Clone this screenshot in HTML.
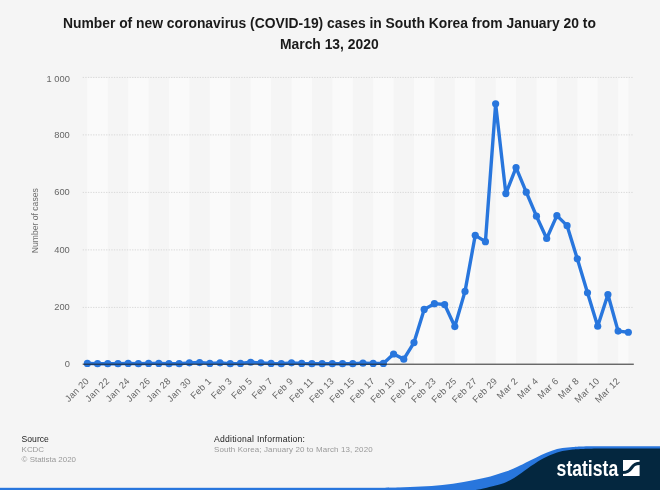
<!DOCTYPE html>
<html><head><meta charset="utf-8"><title>Statista chart</title>
<style>
html,body{margin:0;padding:0;background:#f5f5f5;}
body{width:660px;height:490px;overflow:hidden;font-family:"Liberation Sans",sans-serif;}
svg{display:block;will-change:transform;}
text{font-family:"Liberation Sans",sans-serif;}
</style></head><body>
<svg width="660" height="490" viewBox="0 0 660 490">
<defs><filter id="soft" x="-10" y="-10" width="680" height="510" filterUnits="userSpaceOnUse" color-interpolation-filters="sRGB"><feGaussianBlur stdDeviation="0.38"/></filter></defs>
<rect x="0" y="0" width="660" height="490" fill="#f5f5f5"/>
<g filter="url(#soft)">
<rect x="-10" y="-10" width="680" height="510" fill="#f5f5f5"/>

<g fill="#fafafa">
<rect x="87.36" y="78.00" width="20.41" height="286.20"/>
<rect x="128.19" y="78.00" width="20.41" height="286.20"/>
<rect x="169.02" y="78.00" width="20.41" height="286.20"/>
<rect x="209.84" y="78.00" width="20.41" height="286.20"/>
<rect x="250.67" y="78.00" width="20.41" height="286.20"/>
<rect x="291.50" y="78.00" width="20.41" height="286.20"/>
<rect x="332.33" y="78.00" width="20.41" height="286.20"/>
<rect x="373.16" y="78.00" width="20.41" height="286.20"/>
<rect x="413.98" y="78.00" width="20.41" height="286.20"/>
<rect x="454.81" y="78.00" width="20.41" height="286.20"/>
<rect x="495.64" y="78.00" width="20.41" height="286.20"/>
<rect x="536.47" y="78.00" width="20.41" height="286.20"/>
<rect x="577.30" y="78.00" width="20.41" height="286.20"/>
<rect x="618.12" y="78.00" width="10.21" height="286.20"/>
</g>
<g stroke="#d8d8d8" stroke-width="1" stroke-dasharray="1.3,1.3" fill="none">
<path d="M82.7 307.40H633.8"/>
<path d="M82.7 249.90H633.8"/>
<path d="M82.7 192.40H633.8"/>
<path d="M82.7 134.90H633.8"/>
<path d="M82.7 77.40H633.8"/>
</g>
<g font-weight="bold" font-size="13.86px" fill="#1a1a1a" text-anchor="middle">
<text x="329.4" y="27.7">Number of new coronavirus (COVID-19) cases in South Korea from January 20 to</text>
<text x="329.3" y="49">March 13, 2020</text>
</g>
<g font-size="9.3px" fill="#666666" text-anchor="end">
<text x="69.8" y="367.40">0</text>
<text x="69.8" y="309.60">200</text>
<text x="69.8" y="252.90">400</text>
<text x="69.8" y="194.90">600</text>
<text x="69.8" y="138.40">800</text>
<text x="69.8" y="81.70">1 000</text>
</g>
<text font-size="8.6px" fill="#707070" text-anchor="middle" transform="translate(37.6,220.7) rotate(-90)">Number of cases</text>
<polyline points="87.36,363.41 97.57,363.70 107.77,363.70 117.98,363.70 128.19,363.41 138.40,363.70 148.60,363.41 158.81,363.41 169.02,363.70 179.22,363.70 189.43,362.84 199.64,362.56 209.84,363.41 220.05,362.84 230.26,363.70 240.47,363.41 250.67,362.27 260.88,362.84 271.09,363.41 281.29,363.70 291.50,362.84 301.71,363.41 311.91,363.70 322.12,363.70 332.33,363.70 342.54,363.70 352.74,363.70 362.95,363.13 373.16,363.41 383.36,363.41 393.57,353.98 403.78,359.13 413.98,342.55 424.19,309.39 434.40,303.67 444.61,304.53 454.81,326.54 465.02,291.38 475.23,235.35 485.43,241.64 495.64,103.86 505.85,193.62 516.05,167.61 526.26,192.19 536.47,216.20 546.68,238.50 556.88,215.63 567.09,225.63 577.30,258.79 587.50,292.81 597.71,326.25 607.92,294.52 618.12,331.11 628.33,332.26" fill="none" stroke="#2876dd" stroke-width="3.4" stroke-linejoin="round" stroke-linecap="round"/>
<g fill="#2876dd">
<circle cx="87.36" cy="363.41" r="3.6"/>
<circle cx="97.57" cy="363.70" r="3.6"/>
<circle cx="107.77" cy="363.70" r="3.6"/>
<circle cx="117.98" cy="363.70" r="3.6"/>
<circle cx="128.19" cy="363.41" r="3.6"/>
<circle cx="138.40" cy="363.70" r="3.6"/>
<circle cx="148.60" cy="363.41" r="3.6"/>
<circle cx="158.81" cy="363.41" r="3.6"/>
<circle cx="169.02" cy="363.70" r="3.6"/>
<circle cx="179.22" cy="363.70" r="3.6"/>
<circle cx="189.43" cy="362.84" r="3.6"/>
<circle cx="199.64" cy="362.56" r="3.6"/>
<circle cx="209.84" cy="363.41" r="3.6"/>
<circle cx="220.05" cy="362.84" r="3.6"/>
<circle cx="230.26" cy="363.70" r="3.6"/>
<circle cx="240.47" cy="363.41" r="3.6"/>
<circle cx="250.67" cy="362.27" r="3.6"/>
<circle cx="260.88" cy="362.84" r="3.6"/>
<circle cx="271.09" cy="363.41" r="3.6"/>
<circle cx="281.29" cy="363.70" r="3.6"/>
<circle cx="291.50" cy="362.84" r="3.6"/>
<circle cx="301.71" cy="363.41" r="3.6"/>
<circle cx="311.91" cy="363.70" r="3.6"/>
<circle cx="322.12" cy="363.70" r="3.6"/>
<circle cx="332.33" cy="363.70" r="3.6"/>
<circle cx="342.54" cy="363.70" r="3.6"/>
<circle cx="352.74" cy="363.70" r="3.6"/>
<circle cx="362.95" cy="363.13" r="3.6"/>
<circle cx="373.16" cy="363.41" r="3.6"/>
<circle cx="383.36" cy="363.41" r="3.6"/>
<circle cx="393.57" cy="353.98" r="3.6"/>
<circle cx="403.78" cy="359.13" r="3.6"/>
<circle cx="413.98" cy="342.55" r="3.6"/>
<circle cx="424.19" cy="309.39" r="3.6"/>
<circle cx="434.40" cy="303.67" r="3.6"/>
<circle cx="444.61" cy="304.53" r="3.6"/>
<circle cx="454.81" cy="326.54" r="3.6"/>
<circle cx="465.02" cy="291.38" r="3.6"/>
<circle cx="475.23" cy="235.35" r="3.6"/>
<circle cx="485.43" cy="241.64" r="3.6"/>
<circle cx="495.64" cy="103.86" r="3.6"/>
<circle cx="505.85" cy="193.62" r="3.6"/>
<circle cx="516.05" cy="167.61" r="3.6"/>
<circle cx="526.26" cy="192.19" r="3.6"/>
<circle cx="536.47" cy="216.20" r="3.6"/>
<circle cx="546.68" cy="238.50" r="3.6"/>
<circle cx="556.88" cy="215.63" r="3.6"/>
<circle cx="567.09" cy="225.63" r="3.6"/>
<circle cx="577.30" cy="258.79" r="3.6"/>
<circle cx="587.50" cy="292.81" r="3.6"/>
<circle cx="597.71" cy="326.25" r="3.6"/>
<circle cx="607.92" cy="294.52" r="3.6"/>
<circle cx="618.12" cy="331.11" r="3.6"/>
<circle cx="628.33" cy="332.26" r="3.6"/>
</g>
<path d="M82.7 364.20H633.8" stroke="#202020" stroke-width="0.95" fill="none"/>
<g font-size="9.3px" fill="#666666" text-anchor="end" letter-spacing="0.3">
<text transform="translate(89.66,381.6) rotate(-45)">Jan 20</text>
<text transform="translate(110.07,381.6) rotate(-45)">Jan 22</text>
<text transform="translate(130.49,381.6) rotate(-45)">Jan 24</text>
<text transform="translate(150.90,381.6) rotate(-45)">Jan 26</text>
<text transform="translate(171.32,381.6) rotate(-45)">Jan 28</text>
<text transform="translate(191.73,381.6) rotate(-45)">Jan 30</text>
<text transform="translate(212.14,381.6) rotate(-45)">Feb 1</text>
<text transform="translate(232.56,381.6) rotate(-45)">Feb 3</text>
<text transform="translate(252.97,381.6) rotate(-45)">Feb 5</text>
<text transform="translate(273.39,381.6) rotate(-45)">Feb 7</text>
<text transform="translate(293.80,381.6) rotate(-45)">Feb 9</text>
<text transform="translate(314.21,381.6) rotate(-45)">Feb 11</text>
<text transform="translate(334.63,381.6) rotate(-45)">Feb 13</text>
<text transform="translate(355.04,381.6) rotate(-45)">Feb 15</text>
<text transform="translate(375.46,381.6) rotate(-45)">Feb 17</text>
<text transform="translate(395.87,381.6) rotate(-45)">Feb 19</text>
<text transform="translate(416.28,381.6) rotate(-45)">Feb 21</text>
<text transform="translate(436.70,381.6) rotate(-45)">Feb 23</text>
<text transform="translate(457.11,381.6) rotate(-45)">Feb 25</text>
<text transform="translate(477.53,381.6) rotate(-45)">Feb 27</text>
<text transform="translate(497.94,381.6) rotate(-45)">Feb 29</text>
<text transform="translate(518.35,381.6) rotate(-45)">Mar 2</text>
<text transform="translate(538.77,381.6) rotate(-45)">Mar 4</text>
<text transform="translate(559.18,381.6) rotate(-45)">Mar 6</text>
<text transform="translate(579.60,381.6) rotate(-45)">Mar 8</text>
<text transform="translate(600.01,381.6) rotate(-45)">Mar 10</text>
<text transform="translate(620.42,381.6) rotate(-45)">Mar 12</text>
</g>
<text x="21.6" y="441.8" font-size="8.6px" fill="#1c1c1c">Source</text>
<text x="21.6" y="452.3" font-size="7.95px" fill="#999999">KCDC</text>
<text x="21.6" y="462.2" font-size="7.95px" fill="#999999">© Statista 2020</text>
<text x="214" y="441.8" font-size="8.6px" fill="#1c1c1c" letter-spacing="0.25">Additional Information:</text>
<text x="214" y="452.3" font-size="7.95px" fill="#999999" letter-spacing="0.115">South Korea; January 20 to March 13, 2020</text>
<rect x="-10" y="487.8" width="680" height="12" fill="#2876dd"/>
<path d="M385.0 488.0 C387.5 487.9 394.0 487.8 400.0 487.6 C406.0 487.4 413.9 487.0 421.0 486.6 C428.1 486.2 435.3 485.8 442.4 485.0 C449.5 484.2 456.5 483.2 463.6 482.0 C470.7 480.8 477.8 479.6 484.9 477.8 C492.0 476.1 500.1 473.5 506.0 471.5 C511.9 469.5 515.9 467.5 520.0 465.6 C524.1 463.7 527.1 462.1 530.6 460.3 C534.1 458.5 537.7 456.5 541.2 454.9 C544.7 453.3 548.3 451.8 551.8 450.7 C555.3 449.6 558.9 448.7 562.4 448.1 C565.9 447.5 569.5 447.2 573.0 446.9 C576.5 446.6 577.4 446.5 583.6 446.4 C589.8 446.3 597.3 446.3 610.0 446.3 C622.7 446.3 651.7 446.3 660.0 446.3 L670 446.3 L670 500 L385 500Z" fill="#2876dd"/>
<path d="M470.0 490.5 C471.4 490.4 474.2 490.4 478.5 489.6 C482.8 488.8 490.9 486.8 495.5 485.6 C500.1 484.4 502.5 483.8 506.0 482.2 C509.5 480.6 513.2 478.4 516.7 476.2 C520.2 473.9 523.2 471.5 527.3 468.7 C531.4 465.9 537.1 462.0 541.2 459.6 C545.3 457.2 548.3 455.9 551.8 454.5 C555.3 453.1 558.9 451.9 562.4 451.1 C565.9 450.3 569.5 449.9 573.0 449.5 C576.5 449.1 578.3 449.1 583.6 448.9 C588.9 448.7 592.2 448.6 604.9 448.5 C617.6 448.4 650.8 448.5 660.0 448.5 L670 448.5 L670 500 L470 500Z" fill="#04273f"/>
<text transform="translate(556.6,475.6) scale(0.8,1)" font-size="22px" font-weight="bold" fill="#ffffff">statista</text>
<rect x="623" y="460" width="16.6" height="16" fill="#ffffff"/>
<path d="M622.5 472.5 C 634 472.5, 629 463.3, 640 463.3" stroke="#04273f" stroke-width="3.2" fill="none"/>
</g></svg></body></html>
